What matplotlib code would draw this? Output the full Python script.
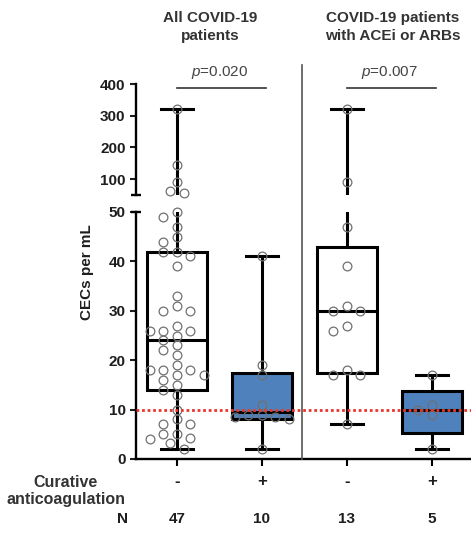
import numpy as np
import matplotlib
matplotlib.use("Agg")
import matplotlib.pyplot as plt
from matplotlib import transforms as mtrans
from matplotlib.lines import Line2D

plt.rcParams['font.family'] = ['Liberation Sans', 'DejaVu Sans']
plt.rcParams['mathtext.fontset'] = 'custom'
plt.rcParams['mathtext.rm'] = 'Liberation Sans'
plt.rcParams['mathtext.it'] = 'Liberation Sans:italic'

# --- data ---
group_labels = ['-', '+', '-', '+']
n_labels = ['47', '10', '13', '5']
panel_titles = ['All COVID-19\npatients', 'COVID-19 patients\nwith ACEi or ARBs']
p_values = ['$p$=0.020', '$p$=0.007']

all_minus = [320, 144, 90, 62, 55,
             50, 49, 47, 45, 44, 42, 42, 41, 39, 33, 31, 30, 30, 27, 26, 26, 26,
             25, 24, 23, 22, 21, 19, 18, 18, 18, 17, 17, 16, 15, 14,
             13, 10, 8, 7, 7, 5, 5, 4.3, 4, 3.3, 2]
all_plus = [41, 19, 17, 11, 9, 9, 8.5, 8.5, 8, 2]
acei_minus = [320, 90, 47, 39, 31, 30, 30, 27, 26, 18, 17, 17, 7]
acei_plus = [17, 11, 10, 9, 2]
groups = [all_minus, all_plus, acei_minus, acei_plus]

# box edges as drawn (min-max whiskers)
q1 = [14, 8, 17.5, 5.3]
median = [24, 9.5, 30, 10]
q3 = [42, 17.5, 43, 13.8]

threshold = 10
BREAK = 50

# --- styling ---
BLUE = '#4f81bd'
RED = '#e8372c'
PT_EDGE = '#707070'
TXT = '#1e1e1e'
FS = 11

W, H = 471, 533
fig = plt.figure(figsize=(W / 100, H / 100), dpi=100)
ax_top = fig.add_axes([136 / W, 1 - 195 / H, 335 / W, 111 / H])
ax_low = fig.add_axes([136 / W, 1 - 459 / H, 335 / W, 247 / H])

pos = np.arange(len(groups))
stats = []
for i, g in enumerate(groups):
    stats.append(dict(med=median[i], q1=q1[i], q3=q3[i],
                      whislo=min(g), whishi=max(g), fliers=[]))

for ax in (ax_top, ax_low):
    ax.set_xlim(-0.48, 3.46)
    bp = ax.bxp(stats, positions=pos, widths=0.7, capwidths=0.37,
                patch_artist=True, showfliers=False,
                boxprops=dict(lw=2.2, edgecolor='black'),
                whiskerprops=dict(lw=2.2, color='black'),
                capprops=dict(lw=2.2, color='black'),
                medianprops=dict(lw=2.2, color='black'))
    for patch, lab in zip(bp['boxes'], group_labels):
        patch.set_facecolor(BLUE if lab == '+' else 'white')
    for s in ('top', 'right'):
        ax.spines[s].set_visible(False)
    ax.spines['left'].set_linewidth(1.7)
    ax.tick_params(axis='y', length=4, width=1.5, labelsize=FS, colors=TXT)

ax_top.set_ylim(BREAK, 400)
ax_low.set_ylim(0, BREAK)
ax_top.spines['bottom'].set_visible(False)
ax_top.set_xticks([])
ax_top.set_yticks([100, 200, 300, 400])
ax_low.set_yticks([0, 10, 20, 30, 40, 50])
for ax in (ax_top, ax_low):
    for t in ax.get_yticklabels():
        t.set_fontweight('bold')
ax_low.spines['bottom'].set_linewidth(1.7)
ax_low.set_xticks(pos)
ax_low.set_xticklabels(group_labels, fontsize=FS + 1, fontweight='bold', color=TXT)
ax_low.tick_params(axis='x', length=5, width=1.5, pad=6)

# small caps where the y axis is broken
for ax in (ax_top, ax_low):
    tr = mtrans.blended_transform_factory(ax.transAxes, ax.transData)
    ax.plot([-0.016, 0.014], [BREAK, BREAK], transform=tr, color='black',
            lw=1.7, clip_on=False, solid_capstyle='butt')


def swarm_offsets(ax, vals, center, min_dist=9.5, step=6.7):
    # simple beeswarm in pixel space
    pix = ax.transData.transform(np.column_stack([np.full(len(vals), center), vals]))
    ys = pix[:, 1]
    unit = ax.transData.transform([[1, 0]])[0, 0] - ax.transData.transform([[0, 0]])[0, 0]
    placed = []
    offs = np.zeros(len(vals))
    for i in np.argsort(-ys):
        k = 0
        done = False
        while not done:
            cands = [0.0] if k == 0 else [-k * step, k * step]
            for c in cands:
                if all((c - px) ** 2 + (ys[i] - py) ** 2 >= min_dist ** 2 for px, py in placed):
                    placed.append((c, ys[i]))
                    offs[i] = c / unit
                    done = True
                    break
            k += 1
    return center + offs


for i, g in enumerate(groups):
    g = np.asarray(g, dtype=float)
    for ax, sel in ((ax_low, g <= BREAK), (ax_top, g > BREAK)):
        v = g[sel]
        if len(v) == 0:
            continue
        xs = swarm_offsets(ax, v, pos[i])
        ax.plot(xs, v, 'o', ms=6.3, mfc='none', mec=PT_EDGE, mew=0.9,
                clip_on=False, zorder=4)

ax_low.axhline(threshold, color=RED, lw=2, ls=(0, (1, 1)), zorder=6)

# p-value brackets
for j, ptxt in enumerate(p_values):
    x0 = pos[2 * j]
    ax_top.plot([x0, x0 + 1.05], [388, 388], color='#333333', lw=1.2, clip_on=False)
    ax_top.text(x0 + 0.5, 435, ptxt, ha='center', va='center', fontsize=FS,
                color='#444444', clip_on=False)

# panel separator
fig.add_artist(Line2D([302 / W, 302 / W], [1 - 459 / H, 1 - 65 / H],
                      transform=fig.transFigure, color='#555555', lw=1.2))

# headers
fig.text(210 / W, 1 - 27 / H, panel_titles[0], ha='center', va='center',
         fontsize=FS, fontweight='bold', color='#333333', linespacing=1.3)
fig.text(393 / W, 1 - 27 / H, panel_titles[1], ha='center', va='center',
         fontsize=FS, fontweight='bold', color='#333333', linespacing=1.3)

fig.text(87 / W, 1 - 272 / H, 'CECs per mL', rotation=90, ha='center', va='center',
         fontsize=FS, fontweight='bold', color=TXT)

fig.text(66 / W, 1 - 491 / H, 'Curative\nanticoagulation', ha='center', va='center',
         fontsize=FS + 0.5, fontweight='bold', color='#333333', linespacing=1.15)
fig.text(128 / W, 1 - 519 / H, 'N', ha='right', va='center',
         fontsize=FS, fontweight='bold', color=TXT)
tr_n = mtrans.blended_transform_factory(ax_low.transData, fig.transFigure)
for x, n in zip(pos, n_labels):
    fig.text(x, 1 - 519 / H, n, transform=tr_n, ha='center', va='center',
             fontsize=FS, fontweight='bold', color=TXT)

fig.savefig('out.png', dpi=100)
